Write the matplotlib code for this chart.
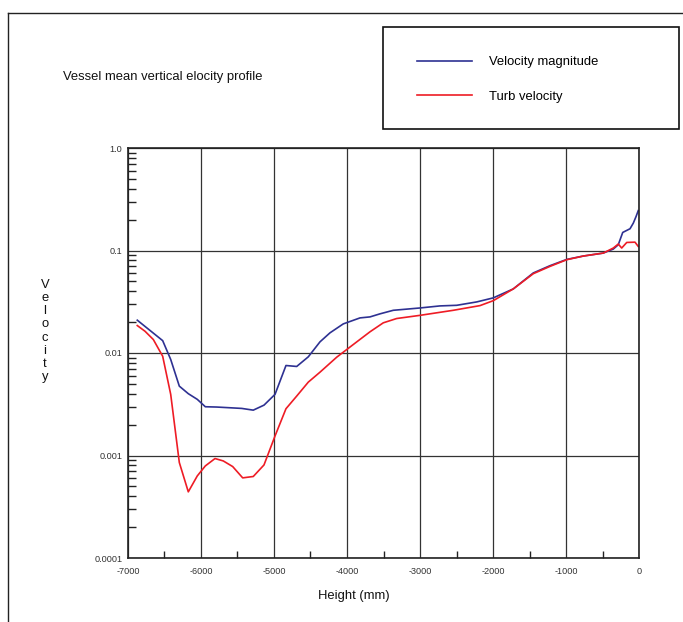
import matplotlib
matplotlib.use("Agg")
import matplotlib.pyplot as plt
from matplotlib.lines import Line2D
from matplotlib.patches import Rectangle
from matplotlib.ticker import FixedLocator, NullFormatter, FixedFormatter
import numpy as np

plt.rcParams['font.family'] = ['Liberation Sans', 'DejaVu Sans']

# ---- data ----
height_mag = [-6873, -6525, -6415, -6297, -6174, -6051, -5941, -5785, -5442, -5284,
              -5137, -4986, -4836, -4689, -4530, -4370, -4233, -4051, -3822, -3685,
              -3548, -3366, -3000, -2726, -2497, -2223, -1996, -1722, -1448, -1219,
              -990, -763, -489, -352, -284, -223, -123, -78, -41, -10]
vel_mag = [0.0209, 0.0132, 0.00865, 0.00475, 0.00401, 0.00353, 0.00299, 0.00297, 0.00288, 0.00277,
           0.00310, 0.00395, 0.00755, 0.00739, 0.00918, 0.01285, 0.01573, 0.01923, 0.0220, 0.0225,
           0.0241, 0.0261, 0.0275, 0.0288, 0.0292, 0.0315, 0.0345, 0.0422, 0.0604, 0.0711,
           0.0818, 0.0883, 0.0944, 0.1033, 0.1138, 0.150, 0.163, 0.185, 0.214, 0.245]

height_turb = [-6873, -6767, -6653, -6525, -6415, -6297, -6174, -6051, -5941, -5808,
               -5695, -5566, -5429, -5284, -5137, -4986, -4836, -4689, -4530, -4370,
               -4141, -3914, -3685, -3503, -3319, -3000, -2544, -2178, -1996, -1722,
               -1448, -1219, -990, -763, -489, -352, -284, -237, -168, -55, -10]
vel_turb = [0.01853, 0.0163, 0.01353, 0.0093, 0.00395, 0.000854, 0.000442, 0.000632, 0.000791, 0.000934,
            0.000885, 0.00078, 0.000605, 0.000624, 0.000809, 0.00155, 0.00286, 0.0038, 0.0052, 0.0065,
            0.0091, 0.0121, 0.0161, 0.0197, 0.0217, 0.0233, 0.0261, 0.0290, 0.0324, 0.0422,
            0.0594, 0.0700, 0.0813, 0.0883, 0.0944, 0.1057, 0.1156, 0.1057, 0.1198, 0.1206, 0.1095]

x_ticks = [-7000, -6000, -5000, -4000, -3000, -2000, -1000, 0]
x_tick_labels = ['-7000', '-6000', '-5000', '-4000', '-3000', '-2000', '-1000', '0']
y_ticks = [0.0001, 0.001, 0.01, 0.1, 1.0]
y_tick_labels = ['0.0001', '0.001', '0.01', '0.1', '1.0']

series_labels = ['Velocity magnitude', 'Turb velocity']
colors = ['#2e3192', '#ee1c25']

W, H = 683, 622
fig = plt.figure(figsize=(W / 100, H / 100), dpi=100)
ax = fig.add_axes([128 / W, 1 - 558 / H, (639 - 128) / W, (558 - 148) / H])

l1, = ax.plot(height_mag, vel_mag, color=colors[0], lw=1.2)
l2, = ax.plot(height_turb, vel_turb, color=colors[1], lw=1.2)

ax.set_yscale('log')
ax.set_xlim(-7000, 0)
ax.set_ylim(1e-4, 1.0)

ax.xaxis.set_major_locator(FixedLocator(x_ticks))
ax.xaxis.set_major_formatter(FixedFormatter(x_tick_labels))
ax.xaxis.set_minor_locator(FixedLocator([v + 500 for v in x_ticks[:-1]]))
ax.xaxis.set_minor_formatter(NullFormatter())

ax.yaxis.set_major_locator(FixedLocator(y_ticks))
ax.yaxis.set_major_formatter(FixedFormatter(y_tick_labels))
minor_y = [m * 10.0 ** e for e in range(-4, 0) for m in range(2, 10)]
ax.yaxis.set_minor_locator(FixedLocator(minor_y))
ax.yaxis.set_minor_formatter(NullFormatter())

ax.tick_params(axis='x', which='major', length=0, pad=6.5, labelsize=6.6, labelcolor='#333333')
ax.tick_params(axis='x', which='minor', direction='in', length=5, width=1, color='#222222')
ax.tick_params(axis='y', which='major', length=0, pad=4, labelsize=6.6, labelcolor='#333333')
ax.tick_params(axis='y', which='minor', direction='in', length=6, width=1, color='#222222')

ax.grid(True, which='major', color='#333333', lw=0.9)
for s in ax.spines.values():
    s.set_color('#222222')
    s.set_linewidth(1.2)

# Labels / title
fig.text(63 / W, 1 - 77 / H, 'Vessel mean vertical elocity profile', fontsize=9.4,
         ha='left', va='center', color='#111111')
fig.text(354 / W, 1 - 596 / H, 'Height (mm)', fontsize=9.4, ha='center', va='center',
         color='#111111')
fig.text(45 / W, 1 - 331 / H, '\n'.join('Velocity'), fontsize=9.4, ha='center', va='center',
         linespacing=1.13, color='#111111')

# Outer frame (partial, as in the reference)
fig.add_artist(Line2D([7.5 / W, 7.5 / W], [0, 1 - 13 / H], color='#222222', lw=1,
                      transform=fig.transFigure))
fig.add_artist(Line2D([7.5 / W, 1], [1 - 13 / H, 1 - 13 / H], color='#222222', lw=1,
                      transform=fig.transFigure))

# Legend box
fig.add_artist(Rectangle((383 / W, 1 - 129 / H), (679 - 383) / W, (129 - 27) / H,
                         fill=False, edgecolor='#111111', lw=1.2, transform=fig.transFigure))
fig.legend([l1, l2], series_labels, loc='center left',
           bbox_to_anchor=(405 / W, 1 - 79.5 / H), frameon=False, fontsize=9.4,
           handlelength=4.2, handletextpad=1.3, labelspacing=1.7)

fig.savefig('out.png', dpi=100)
